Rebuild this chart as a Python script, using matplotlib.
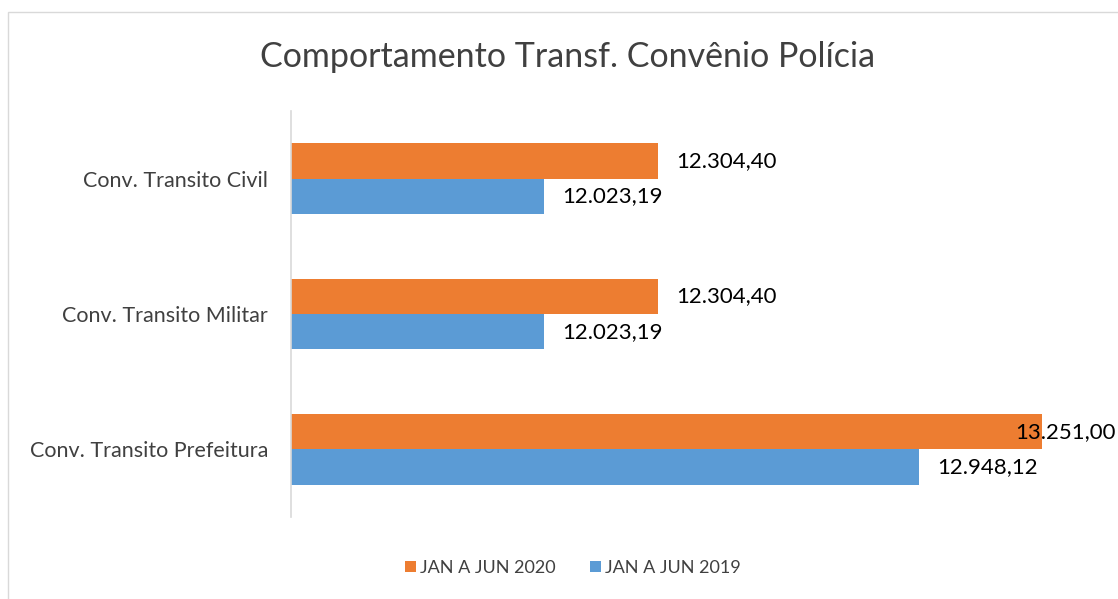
import matplotlib.pyplot as plt
from matplotlib.patches import Rectangle

categories = ["Conv. Transito Civil", "Conv. Transito Militar", "Conv. Transito Prefeitura"]
jan_jun_2020 = [12304.40, 12304.40, 13251.00]
jan_jun_2019 = [12023.19, 12023.19, 12948.12]
series_names = ["JAN A JUN 2020", "JAN A JUN 2019"]

ORANGE = "#ED7D31"
BLUE = "#5B9BD5"
FONT = ["Lato", "DejaVu Sans"]


def fmt_br(v):
    s = f"{v:,.2f}"
    return s.replace(",", "X").replace(".", ",").replace("X", ".")


fig = plt.figure(figsize=(11.18, 5.99), dpi=100)
fig.patches.append(Rectangle((8 / 1118, -0.01), 1.2, 1 - 12 / 599 + 0.01,
                             transform=fig.transFigure, fill=False,
                             edgecolor="#D9D9D9", linewidth=1.0))

ax = fig.add_axes([291 / 1118, 82 / 599, 811 / 1118, 406 / 599])
h = 0.262
ypos = list(range(len(categories)))
b20 = ax.barh([y - h / 2 for y in ypos], jan_jun_2020, height=h, color=ORANGE,
              label=series_names[0])
b19 = ax.barh([y + h / 2 for y in ypos], jan_jun_2019, height=h, color=BLUE,
              label=series_names[1])

ax.set_xlim(11400, 13400)
ax.set_ylim(len(categories) - 0.5, -0.5)
ax.set_xticks([])
ax.set_yticks(ypos)
ax.set_yticklabels(categories, fontsize=15.5, color="#404040", family=FONT)
ax.tick_params(axis="y", length=0, pad=16.5)
for s in ["top", "right", "bottom"]:
    ax.spines[s].set_visible(False)
ax.spines["left"].set_color("#D9D9D9")
ax.spines["left"].set_linewidth(1.2)

for bars, vals in [(b20, jan_jun_2020), (b19, jan_jun_2019)]:
    for rect, v in zip(bars, vals):
        off = -26 if v > 13000 else 18
        ax.annotate(fmt_br(v), (v, rect.get_y() + rect.get_height() / 2),
                    xytext=(off * 0.72, 0), textcoords="offset points",
                    ha="left", va="center", fontsize=16, color="black",
                    family=FONT, annotation_clip=False)

fig.text(0.508, 1 - 57 / 599, "Comportamento Transf. Convênio Polícia",
         ha="center", va="center", fontsize=24.5, color="#404040", family=FONT)

leg = fig.legend(handles=[b20, b19], labels=series_names, loc="center",
                 bbox_to_anchor=(573 / 1118, 1 - 568 / 599), ncol=2, frameon=False,
                 handlelength=0.6, handleheight=0.6, handletextpad=0.25,
                 columnspacing=1.9, prop={"family": FONT, "size": 13})
for t in leg.get_texts():
    t.set_color("#404040")

fig.savefig("out.png", dpi=100)
